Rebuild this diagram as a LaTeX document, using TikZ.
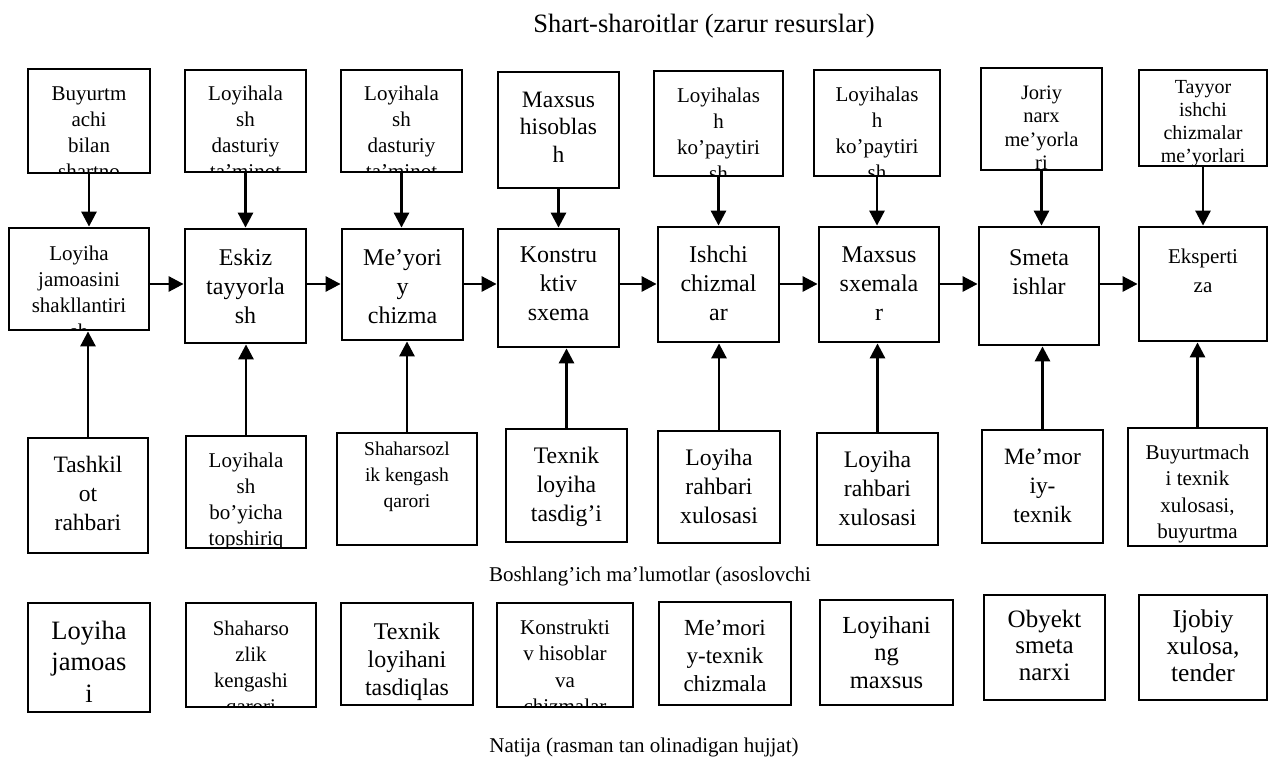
\documentclass[tikz,border=0pt]{standalone}
\usepackage{fontspec}
\setmainfont{Liberation Serif}
\usetikzlibrary{arrows.meta}
\tikzset{
  box/.style={draw, line width=2.8pt, inner sep=0pt, fill=white},
  arr/.style={line width=2.8pt, -{Triangle[length=15pt,width=15pt]}},
  captext/.style={inner sep=0pt, anchor=base, font=\fontsize{21}{26}\selectfont}
}
\newcommand\bx[9]{%
  \pgfmathsetmacro\bxcx{(#2+#4)/2}\pgfmathsetmacro\bxcy{(#3+#5)/2}%
  \pgfmathsetmacro\bxw{#4-#2}\pgfmathsetmacro\bxh{#5-#3}%
  \node[box, minimum width=\bxw pt, minimum height=\bxh pt,
    path picture={\node[anchor=base, inner sep=0pt, font=\fontsize{#6}{#7}\selectfont]
      at ([yshift=-#8pt]path picture bounding box.north)
      {\begin{tabular}[t]{@{}c@{}}#9\end{tabular}};}] (#1) at (\bxcx,\bxcy) {};}
\begin{document}
\begin{tikzpicture}[x=1pt,y=-1pt]
\useasboundingbox (0,0) rectangle (1272,763);
% captions
\node[captext, font=\fontsize{26.5}{30}\selectfont] (c1) at (704,32) {Shart-sharoitlar (zarur resurslar)};
\node[captext] (c2) at (650,581) {Boshlang’ich ma’lumotlar (asoslovchi};
\node[captext] (c3) at (644,752) {Natija (rasman tan olinadigan hujjat)};
% top row
\bx{T1}{28}{69}{150}{173}{21}{26}{31}{Buyurtm\\achi\\bilan\\shartno\\ma}
\bx{T2}{185}{70}{306}{172}{21}{26}{30}{Loyihala\\sh\\dasturiy\\ta’minot\\i}
\bx{T3}{341}{70}{462}{172}{21}{26}{30}{Loyihala\\sh\\dasturiy\\ta’minot\\i}
\bx{T4}{498}{72}{619}{188}{23.5}{27.5}{35}{Maxsus\\hisoblas\\h}
\bx{T5}{654}{71}{783}{176}{21}{26}{31}{Loyihalas\\h\\ko’paytiri\\sh}
\bx{T6}{814}{70}{940}{176}{21}{26}{31}{Loyihalas\\h\\ko’paytiri\\sh}
\bx{T7}{981}{68}{1102}{170}{20.5}{23.5}{31}{Joriy\\narx\\me’yorla\\ri}
\bx{T8}{1139}{70}{1267}{166}{20}{23}{23}{Tayyor\\ishchi\\chizmalar\\me’yorlari}
% main row
\bx{M1}{9}{228}{149}{330}{21}{26}{32}{Loyiha\\jamoasini\\shakllantiri\\sh}
\bx{M2}{185}{229}{306}{343}{24}{29}{36}{Eskiz\\tayyorla\\sh}
\bx{M3}{342}{229}{463}{340}{24}{29}{36}{Me’yori\\y\\chizma}
\bx{M4}{498}{229}{619}{347}{24}{29}{33}{Konstru\\ktiv\\sxema}
\bx{M5}{658}{227}{779}{342}{24}{29}{35}{Ishchi\\chizmal\\ar}
\bx{M6}{819}{227}{939}{342}{24}{29}{35}{Maxsus\\sxemala\\r}
\bx{M7}{979}{227}{1099}{345}{24}{29}{38}{Smeta\\ishlar}
\bx{M8}{1139}{227}{1267}{341}{21}{29}{36}{Eksperti\\za}
% input row
\bx{I1}{28}{438}{148}{553}{23.5}{29}{34}{Tashkil\\ot\\rahbari}
\bx{I2}{186}{436}{306}{548}{21}{26}{31}{Loyihala\\sh\\bo’yicha\\topshiriq}
\bx{I3}{337}{433}{477}{545}{19.5}{26}{22}{Shaharsozl\\ik kengash\\qarori}
\bx{I4}{506}{429}{627}{542}{23.7}{29}{34}{Texnik\\loyiha\\tasdig’i}
\bx{I5}{658}{431}{780}{543}{23.7}{29}{34}{Loyiha\\rahbari\\xulosasi}
\bx{I6}{817}{433}{938}{545}{23.7}{29}{34}{Loyiha\\rahbari\\xulosasi}
\bx{I7}{982}{430}{1103}{543}{23.4}{29}{34}{Me’mor\\iy-\\texnik}
\bx{I8}{1128}{428}{1267}{546}{21}{26.5}{31}{Buyurtmach\\i texnik\\xulosasi,\\buyurtma}
% result row
\bx{R1}{28}{603}{150}{712}{26.5}{31.5}{36}{Loyiha\\jamoas\\i}
\bx{R2}{186}{603}{316}{707}{20.8}{26}{32}{Shaharso\\zlik\\kengashi\\qarori}
\bx{R3}{341}{603}{473}{705}{24}{28}{36}{Texnik\\loyihani\\tasdiqlas}
\bx{R4}{497}{603}{633}{707}{21}{26.5}{31}{Konstrukti\\v hisoblar\\va\\chizmalar}
\bx{R5}{659}{602}{791}{705}{23}{28}{33}{Me’mori\\y-texnik\\chizmala}
\bx{R6}{820}{600}{953}{705}{24.5}{27.5}{33}{Loyihani\\ng\\maxsus}
\bx{R7}{984}{595}{1105}{700}{25}{26.5}{32}{Obyekt\\smeta\\narxi}
\bx{R8}{1139}{595}{1267}{700}{25.5}{27}{32}{Ijobiy\\xulosa,\\tender}
% arrows
\coordinate (hy) at (0,284);
\foreach \a/\b in {M1/M2,M2/M3,M3/M4,M4/M5,M5/M6,M6/M7,M7/M8}
  \draw[arr] (\a.east |- hy) -- (\b.west |- hy);
\foreach \i in {1,...,8}{
  \draw[arr] (T\i.south) -- (T\i.south |- M\i.north);
  \draw[arr] (I\i.north) -- (I\i.north |- M\i.south);
}
\end{tikzpicture}
\end{document}
